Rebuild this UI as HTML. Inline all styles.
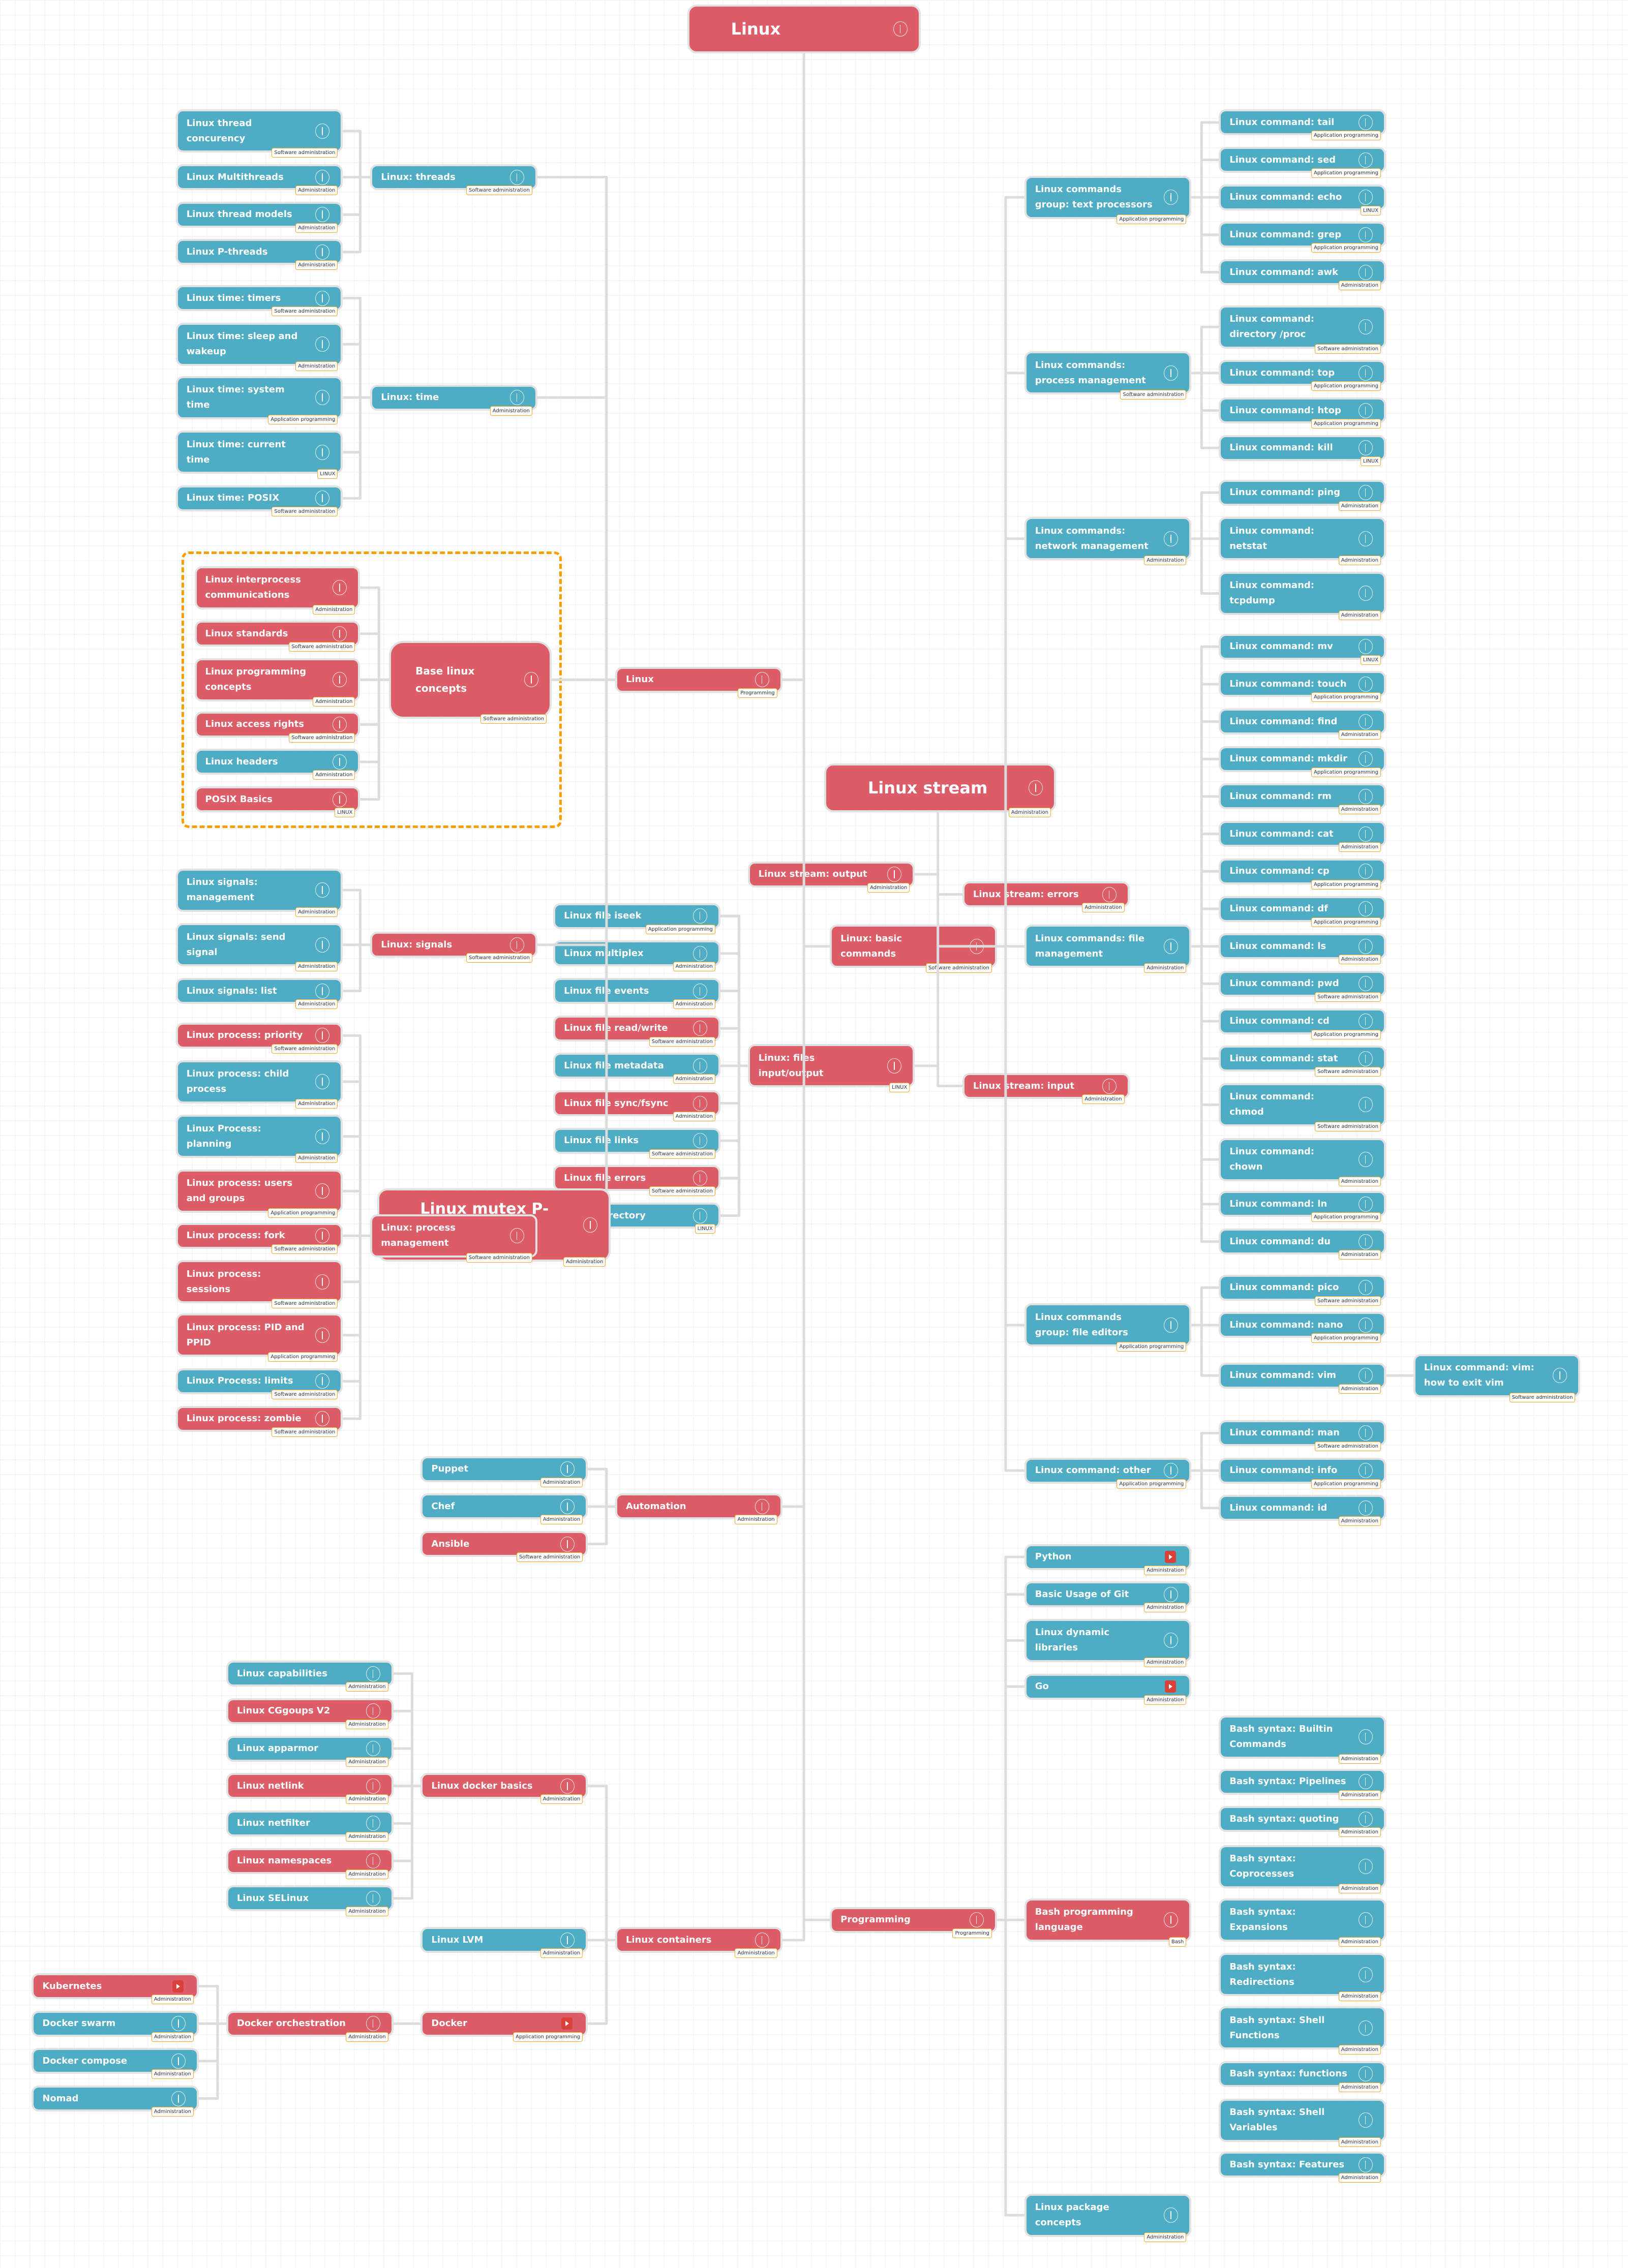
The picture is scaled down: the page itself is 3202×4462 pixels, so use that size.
<!DOCTYPE html>
<html><head><meta charset="utf-8"><style>
html,body{margin:0;padding:0}
body{width:3202px;height:4462px;position:relative;overflow:hidden;background-color:#fff;
background-image:linear-gradient(#f3f3f3 1.5px,transparent 1.5px),linear-gradient(90deg,#f3f3f3 1.5px,transparent 1.5px);background-size:29px 29px;font-family:"DejaVu Sans","Liberation Sans",sans-serif}
.node{position:absolute;box-sizing:border-box;border:4px solid #e2e2e2;border-radius:14px;color:#fff;font-weight:bold;font-size:18px;line-height:30px;display:flex;align-items:center;padding-left:17px;padding-right:40px;white-space:nowrap}
.red{background:#dc5d68}.blue{background:#4eadc4}
.tag{position:absolute;right:6px;bottom:-14px;height:19px;line-height:17px;box-sizing:border-box;border:1.5px solid #f5a623;border-radius:4px;background:#fff;color:#333;font-size:10px;font-weight:normal;padding:0 4px;white-space:nowrap}
.info{position:absolute;right:22px;top:50%;width:28px;height:30px;margin-top:-15px;border:1.5px solid rgba(255,255,255,.85);border-radius:50%;box-sizing:border-box}
.info:after{content:"";position:absolute;left:12px;top:6px;width:1.5px;height:16px;background:#fff}
.yt{position:absolute;right:26px;top:50%;width:22px;height:24px;margin-top:-12px;background:#d9413a;border-radius:4px}
.yt:after{content:"";position:absolute;left:8px;top:7px;border-left:7px solid #fff;border-top:5px solid transparent;border-bottom:5px solid transparent}
svg{position:absolute;left:0;top:0}
</style></head><body>
<svg id="lines" width="3202" height="4462"></svg>
<div id="box" style="position:absolute;left:357px;top:1085px;width:748px;height:544px;border:5px dashed #f6a000;border-radius:14px;box-sizing:border-box"></div>
<script>
const S=3202/1130;
const T={A:"Administration",S:"Software administration",P:"Application programming",L:"LINUX",G:"Programming",B:"Bash"};
// id, x1,y1,x2,y2, color, text, tag, icon
const N=[
["root",477,3,639,37,"r","Linux","",""],
["thr1",122,76,238,106,"b","Linux thread|concurency","S"],
["thr2",122,114,238,132,"b","Linux Multithreads","A"],
["thr3",122,140,238,158,"b","Linux thread models","A"],
["thr4",122,166,238,184,"b","Linux P-threads","A"],
["threads",257,114,373,132,"b","Linux: threads","S"],
["tm1",122,198,238,216,"b","Linux time: timers","S"],
["tm2",122,224,238,254,"b","Linux time: sleep and|wakeup","A"],
["tm3",122,261,238,291,"b","Linux time: system|time","P"],
["tm4",122,299,238,329,"b","Linux time: current|time","L"],
["tm5",122,337,238,355,"b","Linux time: POSIX","S"],
["time",257,267,373,285,"b","Linux: time","A"],
["bc1",135,393,250,423,"r","Linux interprocess|communications","A"],
["bc2",135,431,250,449,"r","Linux standards","S"],
["bc3",135,457,250,487,"r","Linux programming|concepts","A"],
["bc4",135,494,250,512,"r","Linux access rights","S"],
["bc5",135,520,250,538,"b","Linux headers","A"],
["bc6",135,546,250,564,"r","POSIX Basics","L"],
["base",270,445,383,499,"r","Base linux|concepts","S"],
["linux",427,463,543,481,"r","Linux","G"],
["sg1",122,603,238,633,"b","Linux signals:|management","A"],
["sg2",122,641,238,671,"b","Linux signals: send|signal","A"],
["sg3",122,679,238,697,"b","Linux signals: list","A"],
["signals",257,647,373,665,"r","Linux: signals","S"],
["pr1",122,710,238,728,"r","Linux process: priority","S"],
["pr2",122,736,238,766,"b","Linux process: child|process","A"],
["pr3",122,774,238,804,"b","Linux Process:|planning","A"],
["pr4",122,812,238,842,"r","Linux process: users|and groups","P"],
["pr5",122,849,238,867,"r","Linux process: fork","S"],
["pr6",122,875,238,905,"r","Linux process:|sessions","S"],
["pr7",122,912,238,942,"r","Linux process: PID and|PPID","P"],
["pr8",122,950,238,968,"b","Linux Process: limits","S"],
["pr9",122,976,238,994,"r","Linux process: zombie","S"],
["f1",384,627,500,645,"b","Linux file iseek","P"],
["f2",384,653,500,671,"b","Linux multiplex","A"],
["f3",384,679,500,697,"b","Linux file events","A"],
["f4",384,705,500,723,"r","Linux file read/write","S"],
["f5",384,731,500,749,"b","Linux file metadata","A"],
["f6",384,757,500,775,"r","Linux file sync/fsync","A"],
["f7",384,783,500,801,"b","Linux file links","S"],
["f8",384,809,500,827,"r","Linux file errors","S"],
["f9",384,835,500,853,"b","Linux: directory","L"],
["fio",519,725,635,755,"r","Linux: files|input/output","L"],
["sout",519,598,635,616,"r","Linux stream: output","A"],
["stream",572,530,733,564,"r","Linux stream","A"],
["basic",576,642,692,672,"r","Linux: basic|commands","S"],
["serr",668,612,784,630,"r","Linux stream: errors","A"],
["sin",668,745,784,763,"r","Linux stream: input","A"],
["gtext",711,122,827,152,"b","Linux commands|group: text processors","P"],
["gproc",711,244,827,274,"b","Linux commands:|process management","S"],
["gnet",711,359,827,389,"b","Linux commands:|network management","A"],
["gfile",711,642,827,672,"b","Linux commands: file|management","A"],
["gedit",711,905,827,935,"b","Linux commands|group: file editors","P"],
["goth",711,1012,827,1030,"b","Linux command: other","P"],
["c_tail",846,76,962,94,"b","Linux command: tail","P"],
["c_sed",846,102,962,120,"b","Linux command: sed","P"],
["c_echo",846,128,962,146,"b","Linux command: echo","L"],
["c_grep",846,154,962,172,"b","Linux command: grep","P"],
["c_awk",846,180,962,198,"b","Linux command: awk","A"],
["c_proc",846,212,962,242,"b","Linux command:|directory /proc","S"],
["c_top",846,250,962,268,"b","Linux command: top","P"],
["c_htop",846,276,962,294,"b","Linux command: htop","P"],
["c_kill",846,302,962,320,"b","Linux command: kill","L"],
["c_ping",846,333,962,351,"b","Linux command: ping","A"],
["c_net",846,359,962,389,"b","Linux command:|netstat","A"],
["c_tcp",846,397,962,427,"b","Linux command:|tcpdump","A"],
["c_mv",846,440,962,458,"b","Linux command: mv","L"],
["c_touch",846,466,962,484,"b","Linux command: touch","P"],
["c_find",846,492,962,510,"b","Linux command: find","A"],
["c_mkdir",846,518,962,536,"b","Linux command: mkdir","P"],
["c_rm",846,544,962,562,"b","Linux command: rm","A"],
["c_cat",846,570,962,588,"b","Linux command: cat","A"],
["c_cp",846,596,962,614,"b","Linux command: cp","P"],
["c_df",846,622,962,640,"b","Linux command: df","P"],
["c_ls",846,648,962,666,"b","Linux command: ls","A"],
["c_pwd",846,674,962,692,"b","Linux command: pwd","S"],
["c_cd",846,700,962,718,"b","Linux command: cd","P"],
["c_stat",846,726,962,744,"b","Linux command: stat","S"],
["c_chmod",846,752,962,782,"b","Linux command:|chmod","S"],
["c_chown",846,790,962,820,"b","Linux command:|chown","A"],
["c_ln",846,827,962,845,"b","Linux command: ln","P"],
["c_du",846,853,962,871,"b","Linux command: du","A"],
["c_pico",846,885,962,903,"b","Linux command: pico","S"],
["c_nano",846,911,962,929,"b","Linux command: nano","P"],
["c_vim",846,946,962,964,"b","Linux command: vim","A"],
["c_vimx",981,940,1097,970,"b","Linux command: vim:|how to exit vim","S"],
["c_man",846,986,962,1004,"b","Linux command: man","S"],
["c_info",846,1012,962,1030,"b","Linux command: info","P"],
["c_id",846,1038,962,1056,"b","Linux command: id","A"],
["puppet",292,1011,408,1029,"b","Puppet","A"],
["chef",292,1037,408,1055,"b","Chef","A"],
["ansible",292,1063,408,1081,"r","Ansible","S"],
["auto",427,1037,543,1055,"r","Automation","A"],
["d1",157,1153,273,1171,"b","Linux capabilities","A"],
["d2",157,1179,273,1197,"r","Linux CGgoups V2","A"],
["d3",157,1205,273,1223,"b","Linux apparmor","A"],
["d4",157,1231,273,1249,"r","Linux netlink","A"],
["d5",157,1257,273,1275,"b","Linux netfilter","A"],
["d6",157,1283,273,1301,"r","Linux namespaces","A"],
["d7",157,1309,273,1327,"b","Linux SELinux","A"],
["dbasic",292,1231,408,1249,"r","Linux docker basics","A"],
["lvm",292,1338,408,1356,"b","Linux LVM","A"],
["cont",427,1338,543,1356,"r","Linux containers","A"],
["docker",292,1396,408,1414,"r","Docker","P","yt"],
["orch",157,1396,273,1414,"r","Docker orchestration","A"],
["k8s",22,1370,138,1388,"r","Kubernetes","A","yt"],
["swarm",22,1396,138,1414,"b","Docker swarm","A"],
["compose",22,1422,138,1440,"b","Docker compose","A"],
["nomad",22,1448,138,1466,"b","Nomad","A"],
["prog",576,1324,692,1342,"r","Programming","G"],
["python",711,1072,827,1090,"b","Python","A","yt"],
["git",711,1098,827,1116,"b","Basic Usage of Git","A"],
["dyn",711,1124,827,1154,"b","Linux dynamic|libraries","A"],
["go",711,1162,827,1180,"b","Go","A","yt"],
["bash",711,1318,827,1348,"r","Bash programming|language","B"],
["pkg",711,1523,827,1553,"b","Linux package|concepts","A"],
["b1",846,1191,962,1221,"b","Bash syntax: Builtin|Commands","A"],
["b2",846,1228,962,1246,"b","Bash syntax: Pipelines","A"],
["b3",846,1254,962,1272,"b","Bash syntax: quoting","A"],
["b4",846,1281,962,1311,"b","Bash syntax:|Coprocesses","A"],
["b5",846,1318,962,1348,"b","Bash syntax:|Expansions","A"],
["b6",846,1356,962,1386,"b","Bash syntax:|Redirections","A"],
["b7",846,1393,962,1423,"b","Bash syntax: Shell|Functions","A"],
["b8",846,1431,962,1449,"b","Bash syntax: functions","A"],
["b9",846,1457,962,1487,"b","Bash syntax: Shell|Variables","A"],
["b10",846,1494,962,1512,"b","Bash syntax: Features","A"],
["mutex",262,825,424,876,"r","Linux mutex P-","A"],
["pmgmt",257,843,373,873,"r","Linux: process|management","S"]
];
const M={};N.forEach(n=>M[n[0]]=n);
const E=[
["threads",["thr1","thr2","thr3","thr4"],250],
["time",["tm1","tm2","tm3","tm4","tm5"],250],
["base",["bc1","bc2","bc3","bc4","bc5","bc6"],263],
["signals",["sg1","sg2","sg3"],250],
["pmgmt",["pr1","pr2","pr3","pr4","pr5","pr6","pr7","pr8","pr9"],250],
["linux",["threads","time","base","signals","pmgmt"],421],
["fio",["f1","f2","f3","f4","f5","f6","f7","f8","f9"],513],
["auto",["puppet","chef","ansible"],421],
["cont",["dbasic","lvm","docker"],421],
["dbasic",["d1","d2","d3","d4","d5","d6","d7"],286],
["docker",["orch"],283],
["orch",["k8s","swarm","compose","nomad"],151],
["basic",["gtext","gproc","gnet","gfile","gedit","goth"],698],
["prog",["python","git","dyn","go","bash","pkg"],698],
["gtext",["c_tail","c_sed","c_echo","c_grep","c_awk"],834],
["gproc",["c_proc","c_top","c_htop","c_kill"],834],
["gnet",["c_ping","c_net","c_tcp"],834],
["gfile",["c_mv","c_touch","c_find","c_mkdir","c_rm","c_cat","c_cp","c_df","c_ls","c_pwd","c_cd","c_stat","c_chmod","c_chown","c_ln","c_du"],834],
["gedit",["c_pico","c_nano","c_vim"],834],
["c_vim",["c_vimx"],971],
["goth",["c_man","c_info","c_id"],834],
["root",["linux","basic","auto","cont","prog"],558]
];
const svg=document.getElementById('lines');
let d="";
function mid(n){return (n[2]+n[4])/2}
E.forEach(e=>{
  const p=M[e[0]];
  e[1].forEach(cid=>{
    const c=M[cid];const left=c[1]<p[1];
    const ex=left?c[3]:c[1];const cy=mid(c);
    if(e[0]==="root"){
      d+=`M${558*S} ${37*S}V${cy*S}H${ex*S}`;
    }else{
      const sx=left?p[1]:p[3];
      d+=`M${sx*S} ${mid(p)*S}H${e[2]*S}V${cy*S}H${ex*S}`;
    }
  });
});
const sc=["sout","serr","basic","fio","sin"];
sc.forEach(id=>{const c=M[id];const ex=c[1]<651?c[3]:c[1];d+=`M${651*S} ${564*S}V${mid(c)*S}H${ex*S}`;});
const path=document.createElementNS("http://www.w3.org/2000/svg","path");
path.setAttribute('d',d);path.setAttribute('fill','none');path.setAttribute('stroke','#dcdcdc');
path.setAttribute('stroke-width','5');path.setAttribute('stroke-linejoin','round');


svg.appendChild(path);
N.forEach(n=>{
  const el=document.createElement('div');
  el.className='node '+(n[5]==='r'?'red':'blue');
  
  
  const x=n[1]*S,y=n[2]*S,w=(n[3]-n[1])*S,h=(n[4]-n[2])*S;
  el.style.cssText+=`left:${x}px;top:${y}px;width:${w}px;height:${h}px`;
  if(n[0]==='root'||n[0]==='stream'){el.style.fontSize='32px';el.style.paddingLeft='82px';el.style.borderRadius='18px';}
  if(n[0]==='base'){el.style.paddingLeft='48px';el.style.fontSize='20px';el.style.lineHeight='34px';el.style.borderRadius='28px';}
  if(n[0]==='mutex'){el.style.fontSize='30px';el.style.alignItems='flex-start';el.style.paddingTop='22px';el.style.paddingLeft='80px';el.style.borderRadius='20px';el.style.zIndex='2';}
  if(n[0]==='pmgmt'){el.style.zIndex='3';}
  const t=document.createElement('span');t.innerHTML=n[6].split('|').join('<br>');
  el.appendChild(t);
  const ic=document.createElement('div');ic.className=n[8]==='yt'?'yt':'info';
  
  
  el.appendChild(ic);
  if(n[7]){const tg=document.createElement('div');tg.className='tag';tg.textContent=T[n[7]];
    
    
    el.appendChild(tg);}
  document.body.appendChild(el);
});
svg.style.zIndex='1';
</script>
</body></html>
